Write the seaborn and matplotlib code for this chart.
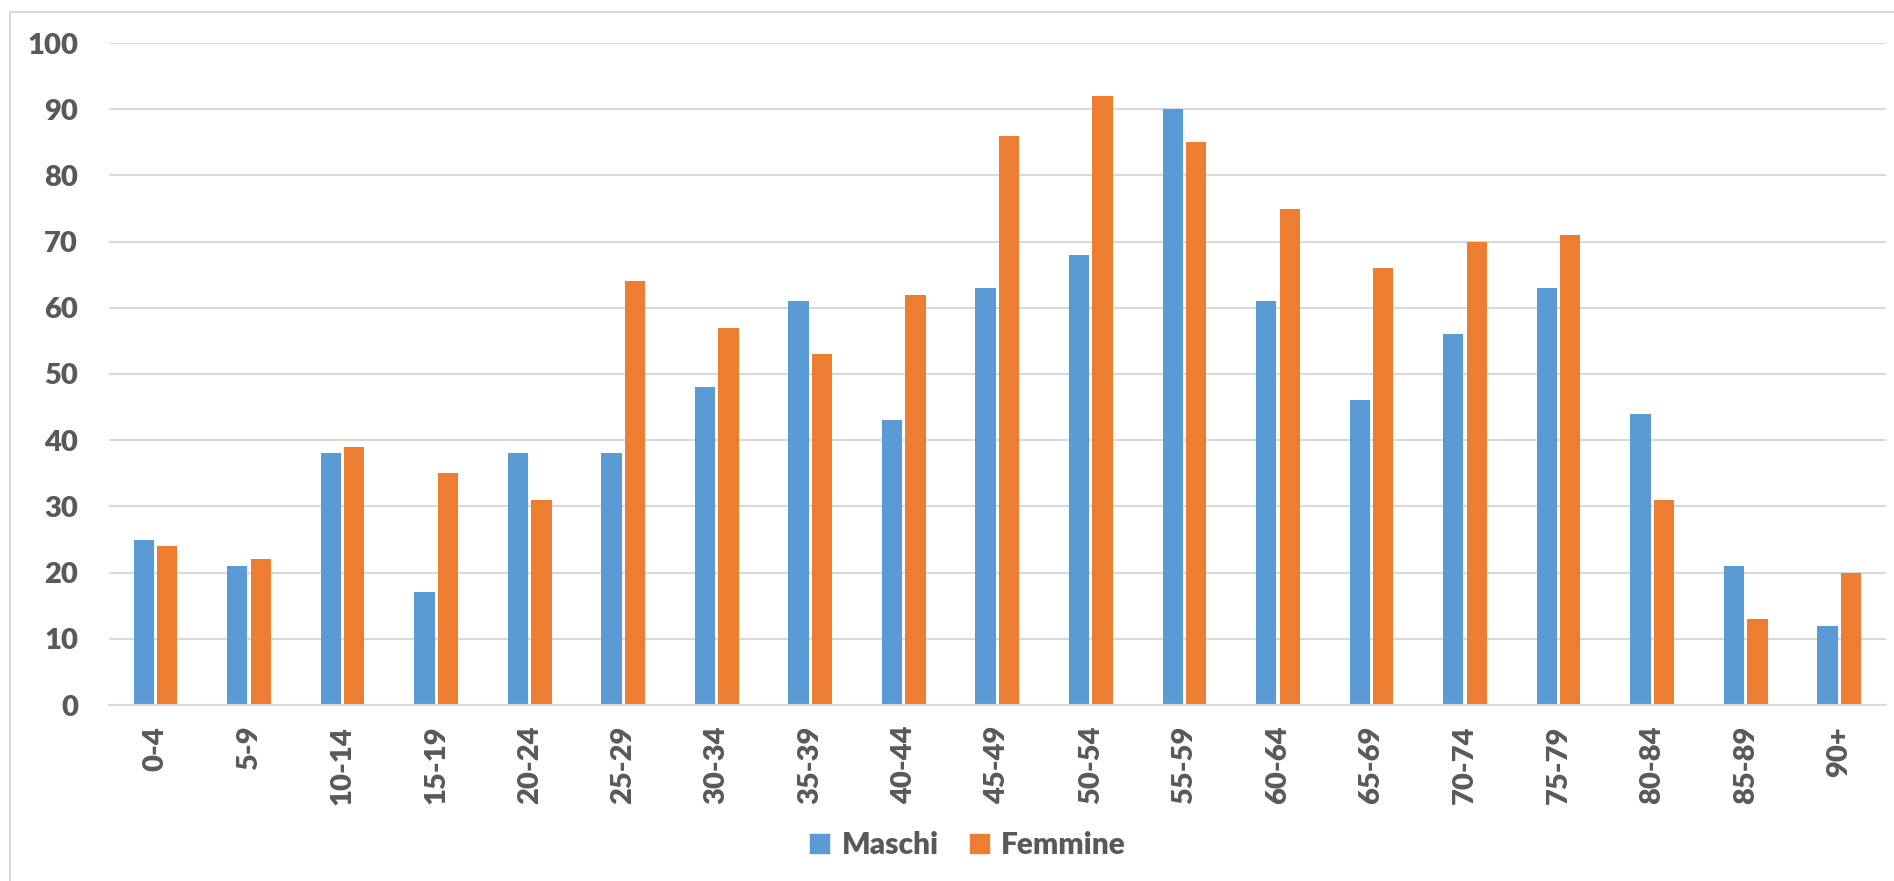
import matplotlib
matplotlib.use("Agg")
import matplotlib.pyplot as plt
from matplotlib.patches import Rectangle
import seaborn as sns
import pandas as pd

categories = ["0-4", "5-9", "10-14", "15-19", "20-24", "25-29", "30-34", "35-39",
              "40-44", "45-49", "50-54", "55-59", "60-64", "65-69", "70-74",
              "75-79", "80-84", "85-89", "90+"]
maschi = [25, 21, 38, 17, 38, 38, 48, 61, 43, 63, 68, 90, 61, 46, 56, 63, 44, 21, 12]
femmine = [24, 22, 39, 35, 31, 64, 57, 53, 62, 86, 92, 85, 75, 66, 70, 71, 31, 13, 20]
series_names = ["Maschi", "Femmine"]
colors = ["#5B9BD5", "#ED7D31"]
y_ticks = [0, 10, 20, 30, 40, 50, 60, 70, 80, 90, 100]

df = pd.DataFrame({
    "Fascia": categories * 2,
    "Valore": maschi + femmine,
    "Sesso": [series_names[0]] * len(categories) + [series_names[1]] * len(categories),
})

sns.set_theme(style="white")
plt.rcParams["font.family"] = ["Lato", "DejaVu Sans"]
plt.rcParams["font.weight"] = "heavy"
text_color = "#595959"
grid_color = "#D9D9D9"
FW = "heavy"

W, H = 1894, 881
fig = plt.figure(figsize=(W / 100, H / 100), dpi=100)
left, right, top, bottom = 108.7, 1886, 43, 705
ax = fig.add_axes([left / W, 1 - bottom / H, (right - left) / W, (bottom - top) / H])

sns.barplot(data=df, x="Fascia", y="Valore", hue="Sesso", order=categories,
            hue_order=series_names, palette=colors, width=0.502, gap=0.135,
            saturation=1, ax=ax, legend=True, linewidth=0)

ax.set_xlim(-0.5, len(categories) - 0.5)
ax.set_ylim(0, 100)
ax.set_yticks(y_ticks)
ax.set_yticklabels([str(v) for v in y_ticks])
ax.set_xlabel("")
ax.set_ylabel("")
ax.yaxis.grid(True, color=grid_color, linewidth=1.5)
ax.set_axisbelow(True)
for s in ["top", "right", "left"]:
    ax.spines[s].set_visible(False)
ax.spines["bottom"].set_color(grid_color)
ax.spines["bottom"].set_linewidth(1.5)
ax.spines["bottom"].set_zorder(5)
ax.tick_params(axis="y", length=0, pad=22, labelsize=21, labelcolor=text_color)
ax.tick_params(axis="x", length=0, pad=15, labelsize=21, labelcolor=text_color, rotation=90)
for lbl in ax.get_xticklabels() + ax.get_yticklabels():
    lbl.set_fontweight(FW)

ax.get_legend().remove()
handles = [Rectangle((0, 0), 1, 1, color=c) for c in colors]
leg = fig.legend(handles, series_names, loc="center", bbox_to_anchor=(968 / W, 1 - 845 / H),
                 ncol=2, frameon=False, handlelength=0.65, handleheight=0.65,
                 handletextpad=0.4, columnspacing=1.05,
                 prop={"size": 21.5, "weight": FW})
for t in leg.get_texts():
    t.set_color(text_color)

frame = Rectangle((10 / W, -0.1), 1.2, (H - 12) / H + 0.1, transform=fig.transFigure,
                  fill=False, edgecolor=grid_color, linewidth=1.5)
fig.patches.append(frame)

fig.savefig("out.png", dpi=100, facecolor="white")
